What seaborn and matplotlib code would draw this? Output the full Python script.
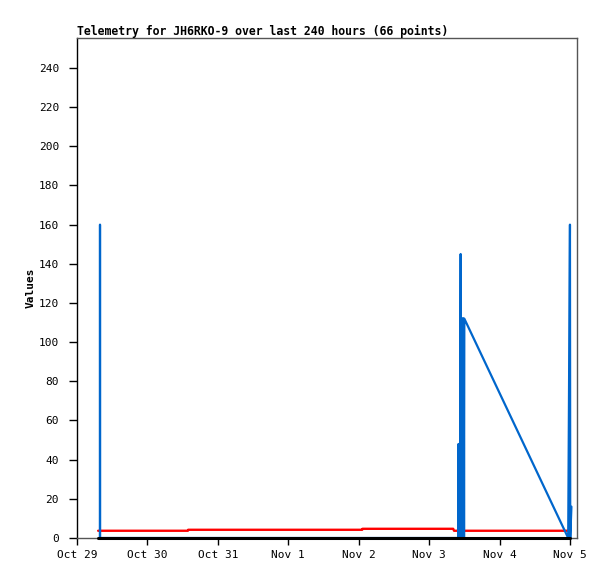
import pandas as pd
import matplotlib
matplotlib.use("Agg")
import matplotlib.pyplot as plt
import seaborn as sns

# DADOS - horas desde Oct 29 00:00
inicio = pd.Timestamp("2024-10-29 00:00")

horas_azul = [7.80, 7.84, 7.88, 40.0, 80.0, 120.0,
              129.9, 130.0, 130.1, 130.2, 130.3, 130.4, 130.5,
              130.75, 130.85, 131.0, 131.1, 131.2, 131.3, 131.4, 131.5,
              131.6, 131.7, 131.8, 131.9, 132.0,
              167.4, 168.0, 168.1, 168.5]
valores_azul = [0, 160, 0, 0, 0, 0,
                0, 48, 0, 48, 0, 48, 0,
                145, 0, 112, 0, 112, 0, 112, 0,
                112, 0, 112, 0, 112,
                0, 160, 0, 16]

horas_vermelho = [7.2, 37.8, 37.9, 97.2, 97.3, 128.2, 128.5, 167.4]
valores_vermelho = [3.7, 3.7, 4.2, 4.2, 4.7, 4.7, 3.7, 3.7]

horas_preto = [7.2, 60.0, 120.0, 168.1]
valores_preto = [0, 0, 0, 0]

ticks_x = ["Oct 29", "Oct 30", "Oct 31", "Nov 1", "Nov 2", "Nov 3", "Nov 4", "Nov 5"]
ticks_y = [0, 20, 40, 60, 80, 100, 120, 140, 160, 180, 200, 220, 240]

titulo = "Telemetry for JH6RKO-9 over last 240 hours (66 points)"

sns.set_style("white")
plt.rcParams["font.family"] = ["DejaVu Sans Mono"]
plt.rcParams["text.color"] = "black"
plt.rcParams["axes.labelcolor"] = "black"
plt.rcParams["xtick.color"] = "black"
plt.rcParams["ytick.color"] = "black"

def serie(horas, valores, nome):
    return pd.DataFrame({
        "tempo": [inicio + pd.Timedelta(hours=h) for h in horas],
        "valor": valores,
        "serie": nome,
    })

df_azul = serie(horas_azul, valores_azul, "azul")
df_vermelho = serie(horas_vermelho, valores_vermelho, "vermelho")
df_preto = serie(horas_preto, valores_preto, "preto")

fig = plt.figure(figsize=(6.15, 5.79), dpi=100)
ax = fig.add_axes([77 / 615, 41 / 579, 500 / 615, 500 / 579])

sns.lineplot(data=df_vermelho, x="tempo", y="valor", color="#ff0000",
             linewidth=1.7, ax=ax, zorder=1, estimator=None, sort=False)
sns.lineplot(data=df_azul, x="tempo", y="valor", color="#0066cc",
             linewidth=1.6, ax=ax, zorder=2, estimator=None, sort=False)
sns.lineplot(data=df_preto, x="tempo", y="valor", color="#000000",
             linewidth=2.2, ax=ax, zorder=3, estimator=None, sort=False,
             clip_on=False)

ax.set_xlim(inicio, inicio + pd.Timedelta(hours=170.4))
ax.set_ylim(0, 255.3)

posicoes_x = [inicio + pd.Timedelta(days=i) for i in range(len(ticks_x))]
ax.set_xticks(posicoes_x)
ax.set_xticklabels(ticks_x, fontsize=8)
ax.set_yticks(ticks_y)
ax.set_yticklabels([str(v) for v in ticks_y], fontsize=8)
ax.tick_params(axis="x", direction="out", length=5, width=1, color="black",
               labelcolor="black", bottom=True, pad=4)
ax.tick_params(axis="y", direction="out", length=6, width=1, color="black",
               labelcolor="black", left=True, pad=7)

for lado in ax.spines.values():
    lado.set_color("#555555")
    lado.set_linewidth(1)
ax.spines["left"].set_color("black")

ax.set_xlabel("")
ax.set_ylabel("Values", fontsize=8, fontweight="bold", labelpad=2, color="black")
ax.set_title(titulo, fontsize=8.3, fontweight="bold", loc="left", pad=2, color="black")
ax.grid(False)

plt.savefig("out.png", dpi=100)
